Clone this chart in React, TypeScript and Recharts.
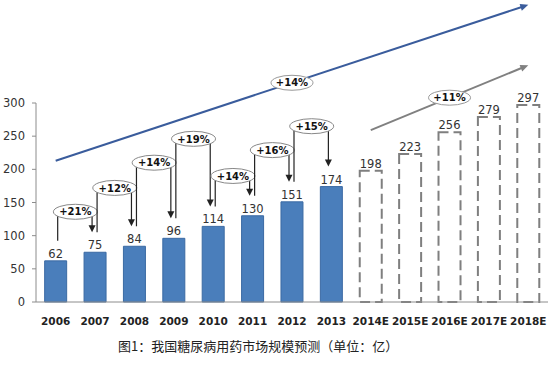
import React from 'react';
import { BarChart, Bar, XAxis, YAxis, Cell, LabelList, ReferenceLine } from 'recharts';

// market size by year (亿元), last five are estimates
const years = ['2006', '2007', '2008', '2009', '2010', '2011', '2012', '2013', '2014E', '2015E', '2016E', '2017E', '2018E'];
const marketSize = [62, 75, 84, 96, 114, 130, 151, 174, 198, 223, 256, 279, 297];
const forecastFrom = 8;
const yTicks = [0, 50, 100, 150, 200, 250, 300];

// year-on-year growth callouts (2006->2007 ... 2012->2013) and the height they sit at
const growthLabels = ['+21%', '+12%', '+14%', '+19%', '+14%', '+16%', '+15%'];
const growthLevels = [136, 172, 210, 246, 190, 229, 265];

// overall trend arrows: start / end category and value, callout text
const trendFrom = ['2006', '2014E'];
const trendTo = ['2018E', '2018E'];
const trendFromValue = [213, 259];
const trendToValue = [448, 357];
const trendLabels = ['+14%', '+11%'];
const trendColors = ['#3A5C9C', '#808080'];

const data = years.map((year, i) => ({ year, value: marketSize[i] }));

const FONT = '"DejaVu Sans", Verdana, sans-serif';

function arrowHead(x: number, y: number, angle: number, len: number, half: number, color: string) {
  const bx = x - len * Math.cos(angle);
  const by = y - len * Math.sin(angle);
  const px = -Math.sin(angle) * half;
  const py = Math.cos(angle) * half;
  return <polygon points={`${x},${y} ${bx + px},${by + py} ${bx - px},${by - py}`} fill={color} />;
}

function Bracket(props: any, i: number) {
  const { x1, y1, x2, y2 } = props;
  if (x1 == null) return null;
  const v0 = marketSize[i];
  const v1 = marketSize[i + 1];
  const pxPerUnit = (y1 - y2) / (v1 - v0);
  const yl = y1 - (growthLevels[i] - v0) * pxPerUnit;
  const xa = x1 + 2;
  const xb = x2 - 3;
  const ya = y1 - 20;
  const yb = y2 - 20;
  const cx = (x1 + x2) / 2;
  return (
    <g>
      <line x1={xa} y1={ya} x2={xa} y2={yl} stroke="#222" strokeWidth={1.2} />
      <line x1={xb} y1={yl} x2={xb} y2={yb - 6} stroke="#222" strokeWidth={1.2} />
      {arrowHead(xb, yb, Math.PI / 2, 7, 3.5, '#222')}
      <ellipse cx={cx} cy={yl} rx={22} ry={7.5} fill="#fff" stroke="#888" strokeWidth={1} />
      <text x={cx} y={yl + 3.7} textAnchor="middle" fontFamily={FONT} fontWeight="bold" fontSize={10} fill="#111">
        {growthLabels[i]}
      </text>
    </g>
  );
}

function TrendArrow(props: any, i: number) {
  const { x1, y1, x2, y2 } = props;
  if (x1 == null) return null;
  const color = trendColors[i];
  const angle = Math.atan2(y2 - y1, x2 - x1);
  const ex = x2 - 6 * Math.cos(angle);
  const ey = y2 - 6 * Math.sin(angle);
  const cx = (x1 + x2) / 2;
  const cy = (y1 + y2) / 2;
  return (
    <g>
      <line x1={x1} y1={y1} x2={ex} y2={ey} stroke={color} strokeWidth={2} />
      {arrowHead(x2, y2, angle, 8, 3.5, color)}
      <ellipse cx={cx} cy={cy} rx={21} ry={7.5} fill="#fff" stroke="#999" strokeWidth={1} />
      <text x={cx} y={cy + 3.7} textAnchor="middle" fontFamily={FONT} fontWeight="bold" fontSize={10} fill="#111">
        {trendLabels[i]}
      </text>
    </g>
  );
}

export default function App() {
  return (
    <div style={{ position: 'absolute', left: 0, top: 0, width: 550, height: 365, background: '#fff' }}>
      <BarChart width={550} height={340} data={data} margin={{ top: 103, right: 2, left: 0, bottom: 8 }} barCategoryGap="22%">
        <XAxis
          dataKey="year"
          interval={0}
          tickLine={false}
          tickSize={0}
          tickMargin={16}
          height={30}
          stroke="#8c8c8c"
          tick={{ fill: '#222', fontSize: 10.5, fontWeight: 'bold', fontFamily: FONT }}
        />
        <YAxis
          domain={[0, 300]}
          ticks={yTicks}
          width={36}
          tickSize={4}
          tickMargin={7}
          stroke="#8c8c8c"
          tick={{ fill: '#333', fontSize: 11.5, fontFamily: FONT }}
        />
        <Bar dataKey="value" isAnimationActive={false}>
          {data.map((d, i) =>
            i < forecastFrom ? (
              <Cell key={d.year} fill="#4A7EBB" stroke="#3B6AA3" strokeWidth={1} />
            ) : (
              <Cell key={d.year} fill="none" stroke="#7f7f7f" strokeWidth={2} strokeDasharray="10 5" />
            )
          )}
          <LabelList dataKey="value" position="top" offset={3} fill="#333" fontSize={11.5} fontFamily={FONT} />
        </Bar>
        {growthLabels.map((g, i) => (
          <ReferenceLine
            key={'g' + i}
            segment={[{ x: years[i], y: marketSize[i] }, { x: years[i + 1], y: marketSize[i + 1] }]}
            ifOverflow="visible"
            shape={(p: any) => Bracket(p, i)}
          />
        ))}
        {trendLabels.map((t, i) => (
          <ReferenceLine
            key={'t' + i}
            segment={[{ x: trendFrom[i], y: trendFromValue[i] }, { x: trendTo[i], y: trendToValue[i] }]}
            ifOverflow="visible"
            shape={(p: any) => TrendArrow(p, i)}
          />
        ))}
      </BarChart>
      <div
        style={{
          position: 'absolute',
          left: 118,
          top: 337,
          fontFamily: '"Noto Sans CJK SC", sans-serif',
          fontSize: 13,
          lineHeight: '18px',
          color: '#222',
          whiteSpace: 'nowrap',
        }}
      >
        图1：我国糖尿病用药市场规模预测（单位：亿）
      </div>
    </div>
  );
}
